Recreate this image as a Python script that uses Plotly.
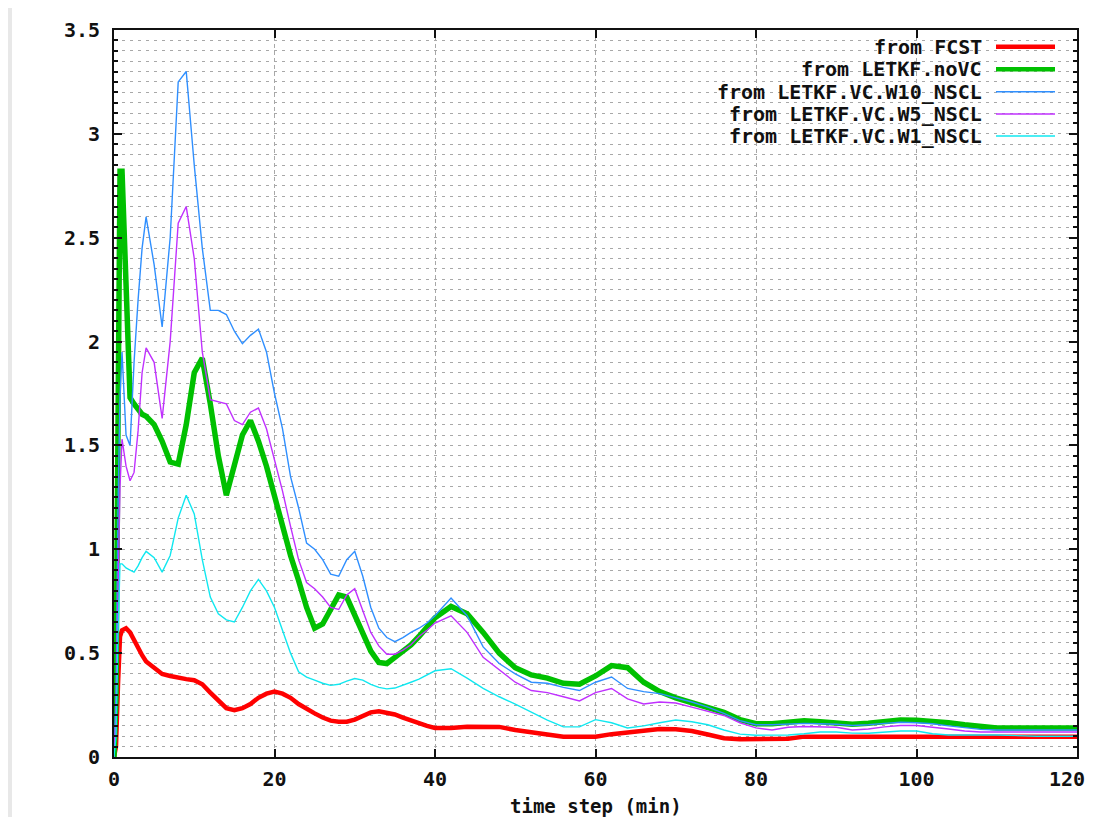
import plotly.graph_objects as go

# ---------------- data ----------------
time_min = [0, 0.25, 0.5, 0.75, 1, 1.5, 2, 2.5, 3, 3.5,
            4, 5, 6, 7, 8, 9, 10, 11, 12, 13, 14, 15, 16, 17, 18, 19, 20,
            21, 22, 23, 24, 25, 26, 27, 28, 29, 30, 31, 32, 33, 34, 35, 36, 37, 38, 39, 40,
            42, 44, 46, 48, 50, 52, 54, 56, 58, 60, 62, 64, 66, 68, 70, 72, 74, 76, 78, 80,
            82, 84, 86, 88, 90, 92, 94, 96, 98, 100, 102, 104, 106, 108, 110, 115, 120]

fcst = [0.0, 0.05, 0.35, 0.58, 0.61, 0.62, 0.60, 0.56, 0.53, 0.49,
        0.46, 0.43, 0.40, 0.39, 0.38, 0.375, 0.37, 0.35, 0.31, 0.27, 0.235, 0.225, 0.235, 0.255, 0.285, 0.305, 0.315,
        0.305, 0.285, 0.255, 0.23, 0.21, 0.19, 0.175, 0.17, 0.17, 0.18, 0.20, 0.215, 0.22, 0.215, 0.205, 0.19, 0.175, 0.16, 0.15, 0.14,
        0.14, 0.146, 0.146, 0.145, 0.13, 0.12, 0.105, 0.098, 0.098, 0.098, 0.11, 0.12, 0.13, 0.135, 0.133, 0.125, 0.108, 0.09, 0.085, 0.085,
        0.085, 0.088, 0.098, 0.098, 0.098, 0.098, 0.098, 0.098, 0.098, 0.098, 0.098, 0.098, 0.098, 0.098, 0.098, 0.098, 0.098]

letkf_novc = [0.0, 0.3, 1.6, 2.82, 2.82, 2.2, 1.73, 1.70, 1.67, 1.65,
              1.64, 1.60, 1.52, 1.42, 1.41, 1.60, 1.85, 1.92, 1.70, 1.45, 1.26, 1.40, 1.55, 1.62, 1.52, 1.40, 1.26,
              1.10, 0.97, 0.85, 0.72, 0.62, 0.64, 0.71, 0.78, 0.77, 0.68, 0.60, 0.51, 0.455, 0.45, 0.48, 0.51, 0.54, 0.58, 0.63, 0.67,
              0.725, 0.69, 0.60, 0.50, 0.43, 0.395, 0.38, 0.355, 0.35, 0.39, 0.44, 0.43, 0.36, 0.315, 0.285, 0.26, 0.24, 0.215, 0.18, 0.16,
              0.16, 0.17, 0.175, 0.17, 0.165, 0.158, 0.162, 0.172, 0.178, 0.177, 0.172, 0.165, 0.155, 0.145, 0.14, 0.14, 0.14]

vc_w10 = [0.0, 0.3, 1.2, 1.73, 1.95, 1.55, 1.50, 1.90, 2.20, 2.45,
          2.60, 2.37, 2.07, 2.50, 3.25, 3.30, 2.85, 2.45, 2.15, 2.15, 2.13, 2.05, 1.99, 2.03, 2.06, 1.95, 1.75,
          1.58, 1.35, 1.20, 1.03, 1.00, 0.95, 0.88, 0.87, 0.95, 0.99, 0.87, 0.72, 0.62, 0.575, 0.555, 0.575, 0.60, 0.62, 0.645, 0.68,
          0.765, 0.68, 0.53, 0.45, 0.40, 0.36, 0.355, 0.335, 0.32, 0.36, 0.385, 0.33, 0.315, 0.305, 0.285, 0.265, 0.24, 0.21, 0.175, 0.155,
          0.155, 0.16, 0.162, 0.16, 0.158, 0.152, 0.155, 0.162, 0.167, 0.165, 0.16, 0.15, 0.14, 0.133, 0.13, 0.13, 0.13]

vc_w5 = [0.0, 0.2, 0.8, 1.3, 1.53, 1.40, 1.33, 1.37, 1.57, 1.85,
         1.97, 1.90, 1.63, 2.00, 2.57, 2.65, 2.40, 1.95, 1.72, 1.71, 1.70, 1.62, 1.60, 1.66, 1.68, 1.58, 1.43,
         1.28, 1.11, 0.95, 0.84, 0.81, 0.77, 0.72, 0.71, 0.78, 0.81, 0.70, 0.60, 0.535, 0.495, 0.495, 0.515, 0.54, 0.58, 0.61, 0.645,
         0.68, 0.60, 0.48, 0.42, 0.36, 0.32, 0.31, 0.29, 0.27, 0.31, 0.33, 0.28, 0.255, 0.265, 0.26, 0.24, 0.22, 0.20, 0.165, 0.14,
         0.13, 0.143, 0.147, 0.146, 0.143, 0.13, 0.135, 0.145, 0.152, 0.152, 0.145, 0.135, 0.125, 0.12, 0.12, 0.12, 0.12]

vc_w1 = [0.0, 0.1, 0.6, 0.93, 0.93, 0.91, 0.90, 0.89, 0.92, 0.96,
         0.99, 0.96, 0.89, 0.97, 1.15, 1.26, 1.17, 0.95, 0.77, 0.69, 0.66, 0.65, 0.72, 0.80, 0.855, 0.80, 0.72,
         0.61, 0.50, 0.41, 0.385, 0.37, 0.355, 0.345, 0.35, 0.365, 0.378, 0.37, 0.35, 0.335, 0.328, 0.332, 0.345, 0.36, 0.375, 0.395, 0.415,
         0.425, 0.38, 0.33, 0.29, 0.255, 0.215, 0.178, 0.145, 0.145, 0.18, 0.165, 0.14, 0.15, 0.165, 0.178, 0.17, 0.155, 0.13, 0.11, 0.105,
         0.105, 0.106, 0.112, 0.12, 0.12, 0.115, 0.114, 0.118, 0.125, 0.125, 0.112, 0.106, 0.106, 0.106, 0.106, 0.10, 0.10]

series_names = ["from FCST", "from LETKF.noVC", "from LETKF.VC.W10_NSCL",
                "from LETKF.VC.W5_NSCL", "from LETKF.VC.W1_NSCL"]
series_values = [fcst, letkf_novc, vc_w10, vc_w5, vc_w1]

x_ticks = [0, 20, 40, 60, 80, 100, 120]
x_tick_labels = ["0", "20", "40", "60", "80", "100", "120"]
y_ticks = [0, 0.5, 1, 1.5, 2, 2.5, 3, 3.5]
y_tick_labels = ["0", "0.5", "1", "1.5", "2", "2.5", "3", "3.5"]
x_title = "time step (min)"

# ---------------- styling ----------------
colors = ["#ff0000", "#00c000", "#2f8fff", "#c030ff", "#10e8f0"]
widths = [4.5, 5.5, 1.4, 1.4, 1.4]

OFF = 8                      # page body margin around the figure
W, H = 1099 - OFF - 1, 825 - 2 * OFF
PL, PR, PT, PB = 114, 1077, 30, 757   # plot box in page pixels
L, T = PL - OFF, PT - OFF
R, B = W - (PR - OFF), H - (PB - OFF)
FONT = "DejaVu Sans Mono"
FS = 20
VISIBLE_RIGHT = 1087          # right edge of the visible page area

def px_x(p):
    return (p - PL) / (PR - PL)

def px_y(p):
    return (PB - p) / (PB - PT)

fig = go.Figure()
for name, vals, c, w in zip(series_names, series_values, colors, widths):
    fig.add_trace(go.Scatter(x=time_min, y=vals, mode="lines", name=name,
                             line=dict(color=c, width=w), showlegend=False,
                             hoverinfo="skip"))

grid_col = "#a8a8a8"
tickfont = dict(family=FONT, size=FS, color="#111", weight="bold")
# last x label is drawn as an annotation pulled in from the page edge
x_tick_text = x_tick_labels[:-1] + [""]
fig.update_xaxes(range=[0, 120], tickvals=x_ticks, ticktext=x_tick_text,
                 ticks="inside", ticklen=8, tickwidth=1.5, tickcolor="#111",
                 showline=True, linecolor="#111", linewidth=2, mirror="ticks",
                 showgrid=True, gridcolor=grid_col, griddash="4px,3px", gridwidth=1,
                 zeroline=False, ticklabelstandoff=3, automargin=False,
                 tickfont=tickfont)
fig.update_yaxes(range=[0, 3.5], tickvals=y_ticks, ticktext=y_tick_labels,
                 ticks="inside", ticklen=8, tickwidth=1.5, tickcolor="#111",
                 showline=True, linecolor="#111", linewidth=2, mirror="ticks",
                 showgrid=True, gridcolor=grid_col, griddash="3px,5px", gridwidth=1,
                 minor=dict(dtick=0.05, ticks="inside", ticklen=4, tickcolor="#111",
                            showgrid=True, gridcolor=grid_col, griddash="3px,5px", gridwidth=1),
                 zeroline=False, ticklabelstandoff=8, automargin=False,
                 tickfont=tickfont)

shapes = [
    # white sheet of the chart over the grey page
    dict(type="rect", xref="paper", yref="paper", layer="below",
         x0=px_x(12), x1=px_x(1110), y0=px_y(840), y1=px_y(7),
         fillcolor="white", line=dict(width=0)),
    # opaque key box
    dict(type="rect", xref="paper", yref="paper", layer="between",
         x0=px_x(719), x1=px_x(1064), y0=px_y(141), y1=px_y(35),
         fillcolor="white", line=dict(width=0)),
]
annotations = []
key_rows = [46.7, 69.3, 91.7, 114, 136]
for name, c, w, yy in zip(series_names, colors, widths, key_rows):
    annotations.append(dict(xref="paper", yref="paper", x=px_x(984), y=px_y(yy),
                            xanchor="right", yanchor="middle", text=name, showarrow=False,
                            font=dict(family=FONT, size=FS, color="#111", weight="bold")))
    shapes.append(dict(type="line", xref="paper", yref="paper", layer="above",
                       x0=px_x(996), x1=px_x(1055), y0=px_y(yy), y1=px_y(yy),
                       line=dict(color=c, width=min(w, 4.5))))
annotations.append(dict(xref="paper", yref="paper", x=px_x(VISIBLE_RIGHT), y=px_y(779),
                        xanchor="right", yanchor="middle", text=x_tick_labels[-1],
                        showarrow=False, font=tickfont))
annotations.append(dict(xref="paper", yref="paper", x=0.5, y=px_y(806),
                        xanchor="center", yanchor="middle", text=x_title, showarrow=False,
                        font=dict(family=FONT, size=FS - 1, color="#111", weight="bold")))

fig.update_layout(width=W, height=H, margin=dict(l=L, r=R, t=T, b=B, pad=0, autoexpand=False),
                  paper_bgcolor="#e8e8e8", plot_bgcolor="white",
                  shapes=shapes, annotations=annotations, showlegend=False)

fig.write_html("out.html")
